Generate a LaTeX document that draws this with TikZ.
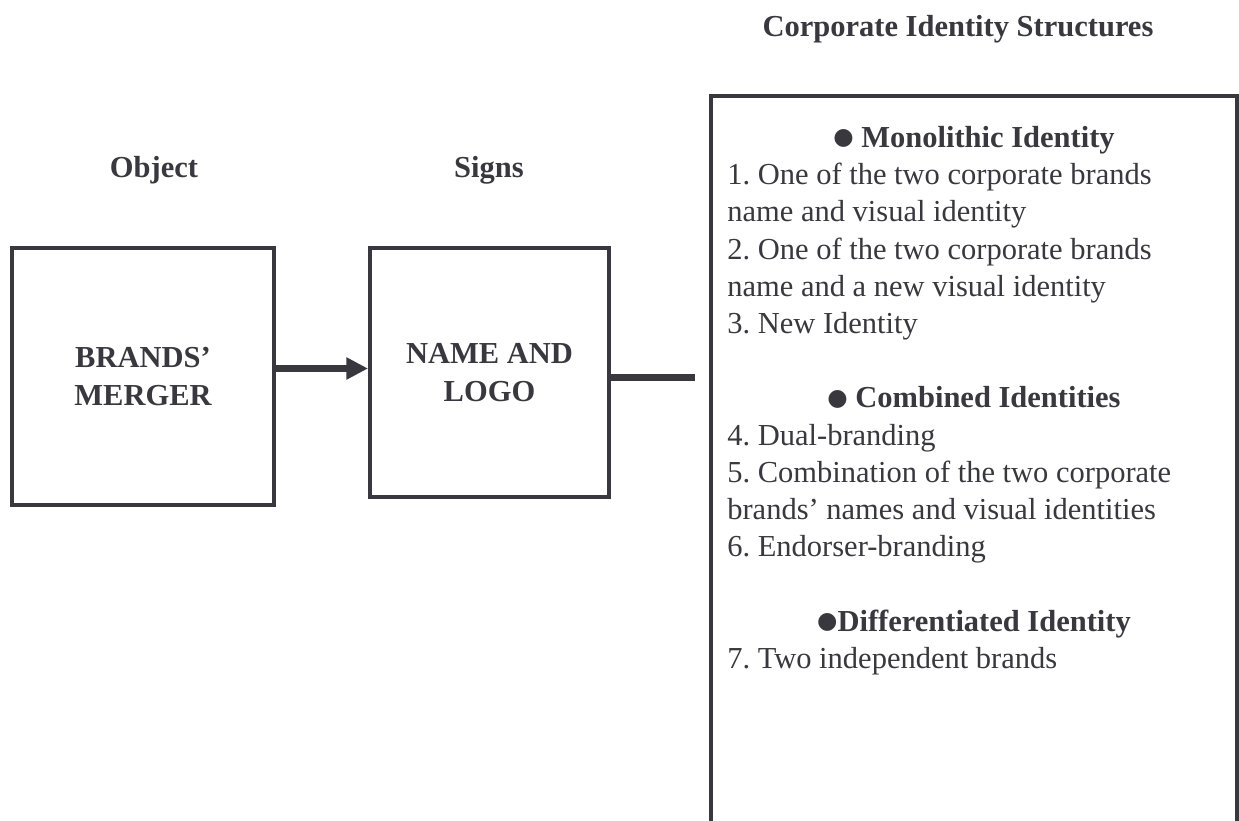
\documentclass[tikz,border=0pt]{standalone}
\usepackage{fontspec}
\setmainfont{Liberation Serif}
\newfontfamily\symfont{DejaVu Sans}
\usetikzlibrary{arrows.meta}
\definecolor{ink}{RGB}{56,56,62}
\newcommand{\headdot}{\raisebox{1.6pt}{\fontsize{14}{14}\selectfont\symfont ●}}
\frenchspacing

\begin{document}
\begin{tikzpicture}[x=0.6pt,y=-0.6pt]
  \useasboundingbox (0,0) rectangle (1239,821);  % page = reference size in px
  \tikzstyle{box}=[draw=ink, line width=2.4pt, inner sep=0pt, align=center, text=ink, font=\fontsize{18.3}{22.8}\selectfont\bfseries]
  \tikzstyle{title}=[anchor=base, inner sep=0pt, text=ink, font=\fontsize{18.3}{22}\selectfont\bfseries]
  \tikzstyle{item}=[anchor=base west, inner sep=0pt, text=ink, font=\fontsize{18.3}{22}\selectfont]
  \tikzstyle{heavy}=[draw=ink, line width=4.2pt]
  \tikzstyle{frame}=[draw=ink, line width=2.4pt]

  \node[title] (objtitle) at (154,178) {Object};
  \node[title] (signtitle) at (489,178) {Signs};
  \node[title] (cistitle) at (958,37) {Corporate Identity Structures};

  \node[box, minimum width=157.2pt, minimum height=154.2pt] (merger) at (143,376.5) {BRANDS'\\MERGER};
  \node[box, minimum width=143.4pt, minimum height=149.4pt] (signs) at (489.5,372.5) {NAME AND\\LOGO};

  \coordinate (arrowstart) at (merger.east |- 0,368.5);
  \draw[heavy, -{Triangle[length=13pt, width=12.6pt]}] (arrowstart) -- (arrowstart -| signs.west);
  \coordinate (lineend) at (695,378);
  \draw[heavy] (signs.east |- lineend) -- (lineend);

  % open-bottomed frame of the structures list
  \draw[frame] (711,830) -- (711,96) -- (1237,96) -- (1237,830);

  \node[title] (mono) at (974,147.5) {\headdot\ Monolithic Identity};
  \node[title] (comb) at (974,147.5+7*37.2) {\headdot\ Combined Identities};
  \node[title] (diff) at (974,147.5+13*37.2) {\headdot Differentiated Identity};

  \foreach \k/\txt in {1/{1. One of the two corporate brands},
                       2/{name and visual identity},
                       3/{2. One of the two corporate brands},
                       4/{name and a new visual identity},
                       5/{3. New Identity},
                       8/{4. Dual-branding},
                       9/{5. Combination of the two corporate},
                       10/{brands' names and visual identities},
                       11/{6. Endorser-branding},
                       14/{7. Two independent brands}}
    \node[item] (line\k) at (727,147.5+\k*37.2) {\txt};
\end{tikzpicture}
\end{document}
